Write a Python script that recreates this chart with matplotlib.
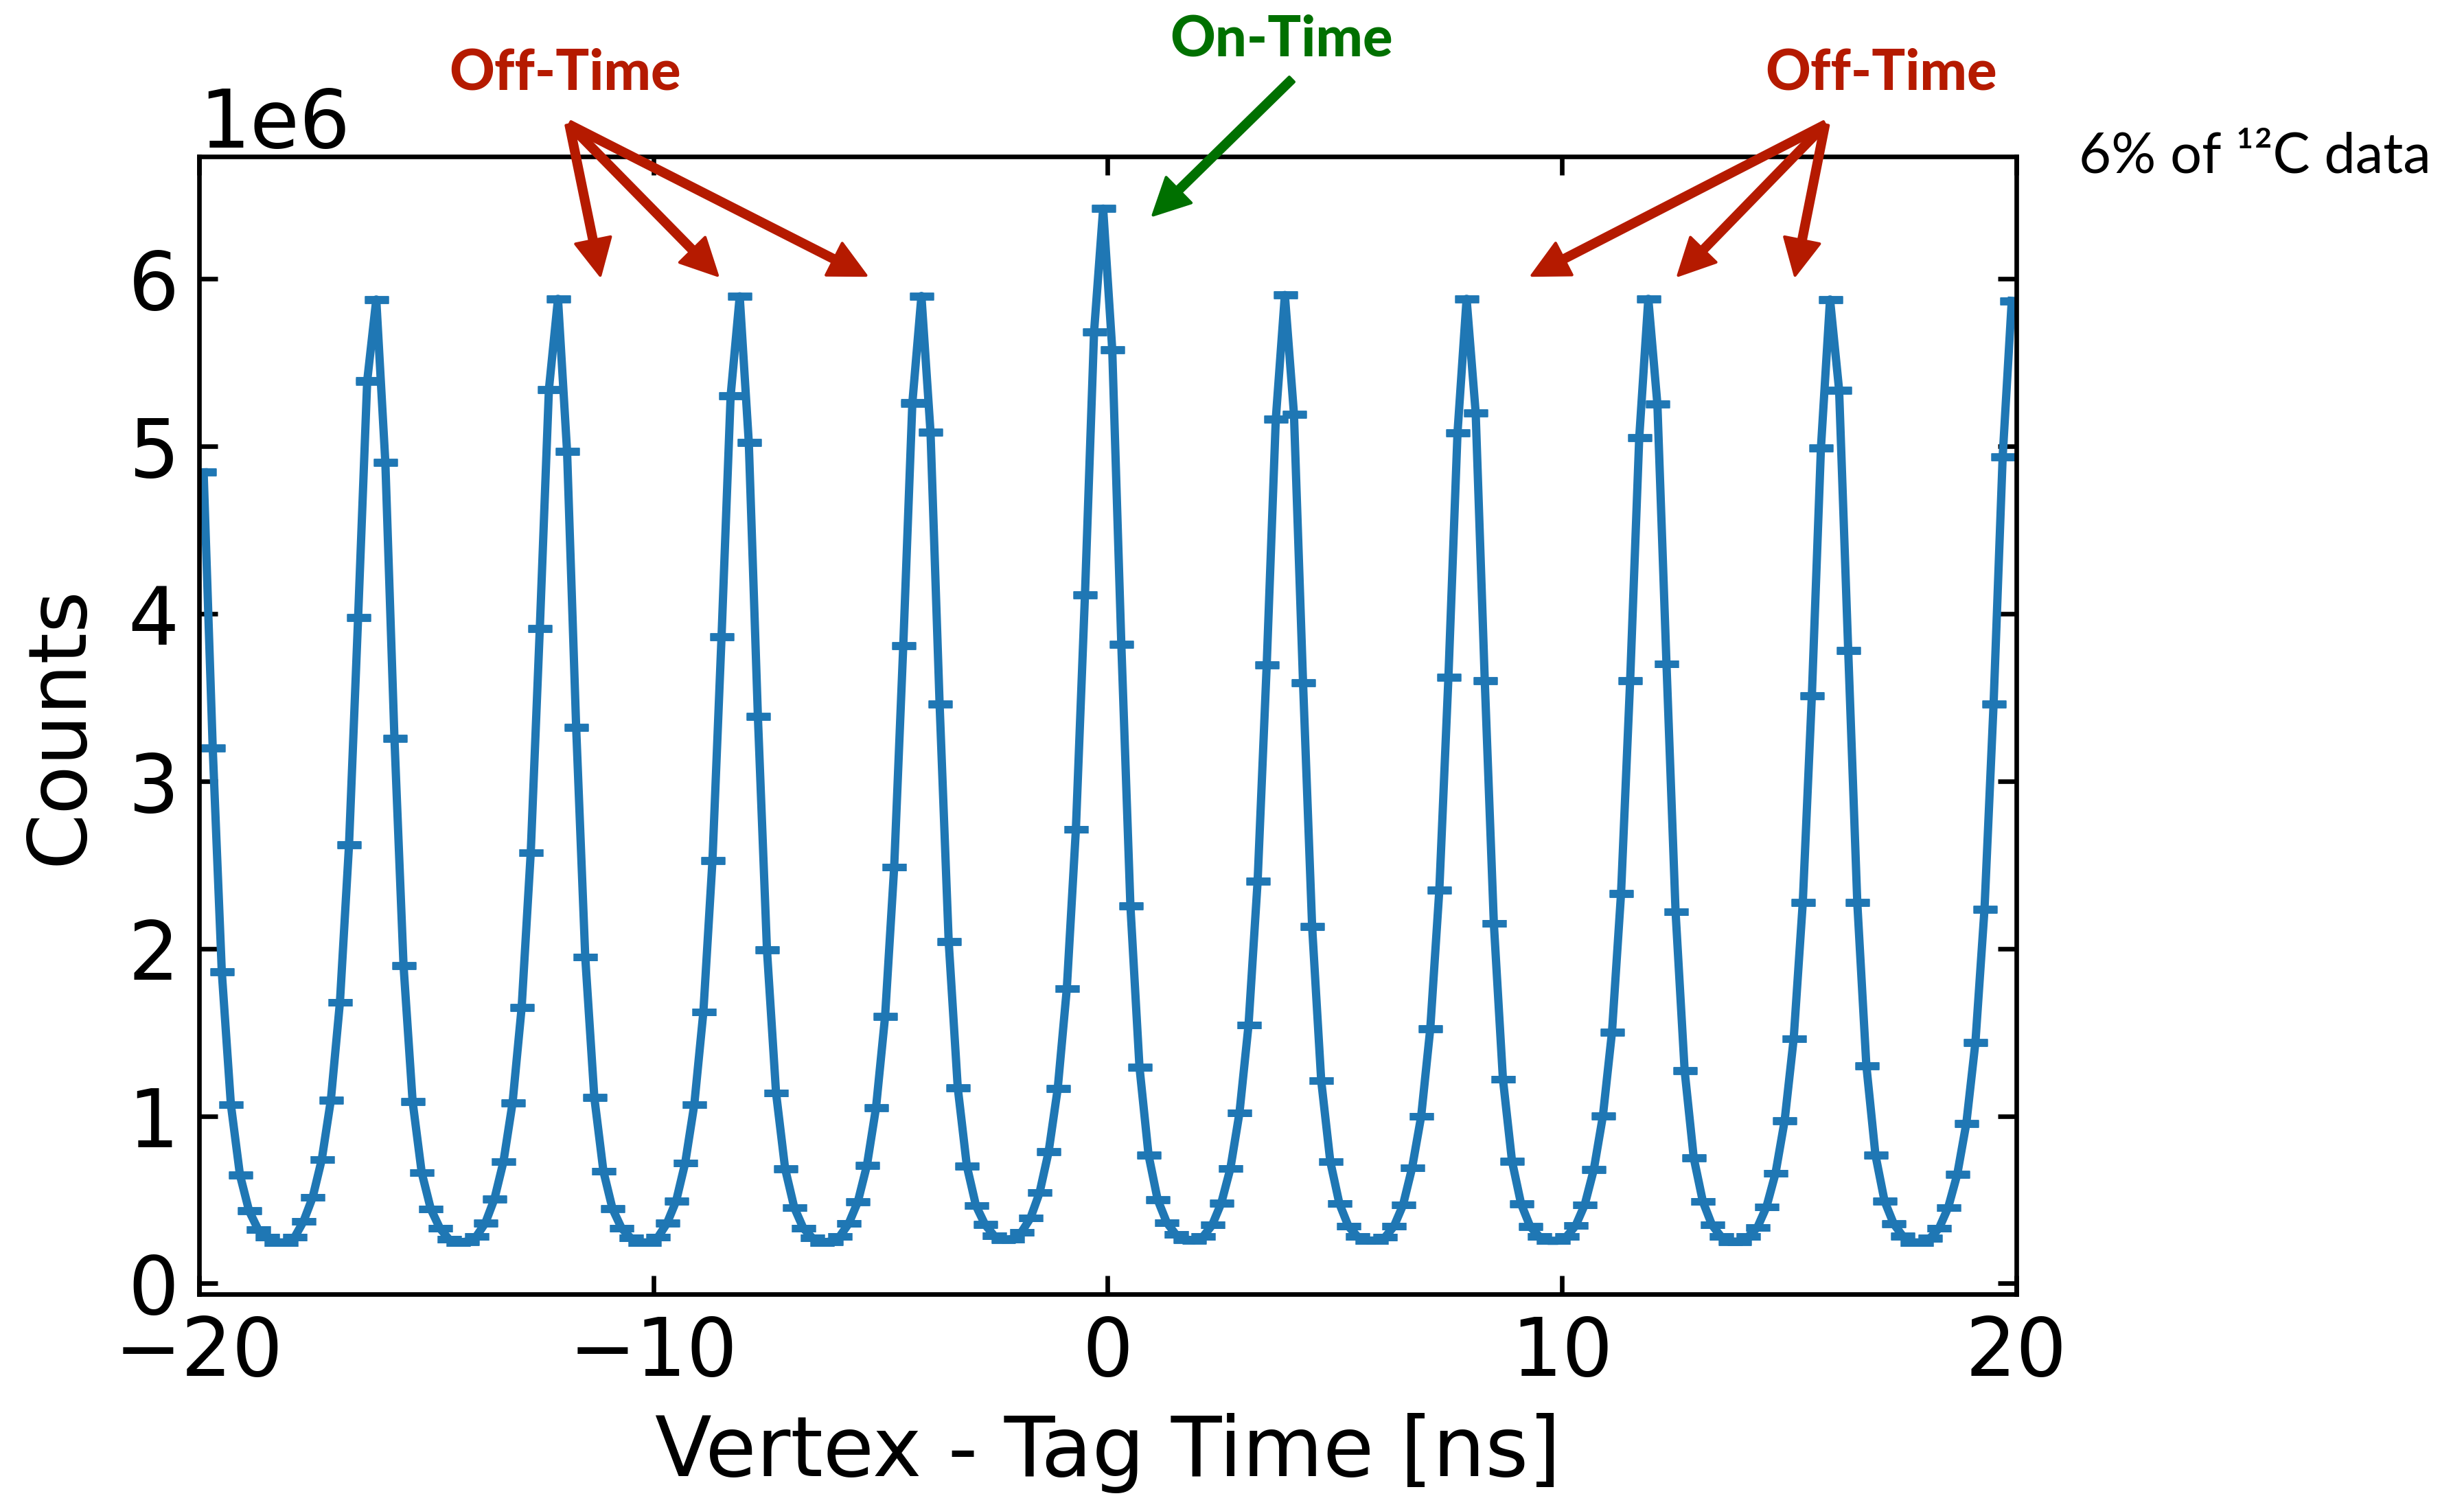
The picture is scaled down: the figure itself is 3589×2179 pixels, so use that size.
import numpy as np
import matplotlib
matplotlib.use("Agg")
from matplotlib import pyplot as plt

# histogram of vertex - tag time, 0.2 ns bins from -20 to 20 ns
bin_edges = np.linspace(-20, 20, 201)
bin_centers = 0.5 * (bin_edges[:-1] + bin_edges[1:])

# counts per bin in millions, one row per 4 ns beam bucket
counts_m = [
    4.844, 3.197, 1.860, 1.068, 0.647, 0.434, 0.322, 0.275, 0.245, 0.245,
    0.275, 0.372, 0.515, 0.740, 1.095, 1.679, 2.618, 3.975, 5.389, 5.876,
    4.902, 3.255, 1.899, 1.087, 0.662, 0.445, 0.330, 0.264, 0.245, 0.250,
    0.280, 0.361, 0.504, 0.728, 1.079, 1.648, 2.572, 3.913, 5.339, 5.880,
    4.968, 3.321, 1.949, 1.110, 0.670, 0.446, 0.330, 0.272, 0.245, 0.245,
    0.276, 0.360, 0.492, 0.720, 1.068, 1.621, 2.525, 3.862, 5.300, 5.895,
    5.022, 3.387, 1.992, 1.138, 0.685, 0.454, 0.330, 0.272, 0.245, 0.250,
    0.280, 0.358, 0.488, 0.705, 1.049, 1.594, 2.486, 3.808, 5.258, 5.897,
    5.084, 3.460, 2.042, 1.168, 0.701, 0.465, 0.352, 0.285, 0.262, 0.265,
    0.305, 0.391, 0.542, 0.787, 1.164, 1.760, 2.712, 4.113, 5.682, 6.419,
    5.577, 3.817, 2.255, 1.291, 0.766, 0.500, 0.364, 0.292, 0.262, 0.258,
    0.280, 0.349, 0.480, 0.686, 1.018, 1.543, 2.401, 3.692, 5.161, 5.903,
    5.192, 3.588, 2.131, 1.211, 0.728, 0.477, 0.341, 0.280, 0.256, 0.256,
    0.275, 0.341, 0.468, 0.690, 0.998, 1.520, 2.350, 3.620, 5.080, 5.880,
    5.200, 3.600, 2.150, 1.220, 0.730, 0.475, 0.340, 0.280, 0.255, 0.255,
    0.280, 0.345, 0.470, 0.680, 1.000, 1.500, 2.330, 3.600, 5.050, 5.880,
    5.250, 3.700, 2.220, 1.270, 0.750, 0.490, 0.350, 0.280, 0.250, 0.250,
    0.280, 0.334, 0.457, 0.658, 0.971, 1.462, 2.274, 3.511, 4.991, 5.876,
    5.335, 3.781, 2.274, 1.300, 0.767, 0.492, 0.357, 0.283, 0.245, 0.245,
    0.270, 0.330, 0.453, 0.651, 0.956, 1.439, 2.235, 3.460, 4.937, 5.868,
]

# annotation anchors (ns, millions of counts)
off_left_label = (-11.95, 7.13)
off_left_origin = (-11.85, 6.92)
off_left_tips = [(-11.17, 6.02), (-8.59, 6.02), (-5.32, 6.02)]
off_right_label = (17.03, 7.13)
off_right_origin = (15.79, 6.92)
off_right_tips = [(9.34, 6.02), (12.56, 6.02), (15.13, 6.02)]
on_label = (3.83, 7.33)
on_origin = (4.05, 7.19)
on_tip = (1.0, 6.38)

red = "#b51a00"
green = "#007000"
blue = "#1f77b4"
fs = 28


def m(p):
    # (ns, millions) -> (ns, counts)
    return (p[0], p[1] * 1e6)


counts = np.array(counts_m) * 1e6
errs = np.sqrt(counts)

fig = plt.figure(figsize=(3589 / 300, 2179 / 300), dpi=300)
ax = fig.add_axes([0.0808, 0.1349, 0.7375, 0.7605])

ax.errorbar(bin_centers, counts, yerr=errs, fmt="-", color=blue, lw=2.9,
            elinewidth=2.2, capsize=4.2, capthick=2.6)

ax.set_xlim(-20, 20)
ax.set_ylim(-0.064e6, 6.73e6)
ax.set_xticks([-20, -10, 0, 10, 20])
ax.set_yticks(np.arange(0, 7) * 1e6)
ax.tick_params(direction="in", top=True, right=True, length=6.4, width=1.6,
               labelsize=fs, pad=7)
for s in ax.spines.values():
    s.set_linewidth(1.6)
ax.yaxis.get_offset_text().set_fontsize(fs)

ax.set_xlabel("Vertex - Tag Time [ns]", fontsize=29, labelpad=7)
ax.set_ylabel("Counts", fontsize=fs, labelpad=10)

bold = dict(family=["Lato", "DejaVu Sans"], weight="black", fontsize=19.5,
            ha="center", va="baseline")
arrow = dict(width=2.4, headwidth=12.5, headlength=12.5, shrink=0)

ax.text(*m(off_left_label), "Off-Time", color=red, **bold)
ax.text(*m(off_right_label), "Off-Time", color=red, **bold)
ax.text(*m(on_label), "On-Time", color=green, **bold)

for tip in off_left_tips:
    ax.annotate("", xy=m(tip), xytext=m(off_left_origin), annotation_clip=False,
                arrowprops=dict(color=red, **arrow))
for tip in off_right_tips:
    ax.annotate("", xy=m(tip), xytext=m(off_right_origin), annotation_clip=False,
                arrowprops=dict(color=red, **arrow))
ax.annotate("", xy=m(on_tip), xytext=m(on_origin), annotation_clip=False,
            arrowprops=dict(color=green, **arrow))

fig.text(0.8437, 0.8845, "6% of \u00b9\u00b2C data", fontsize=19.5,
         family=["Lato", "DejaVu Sans"], weight="normal", color="black",
         ha="left", va="baseline")

plt.savefig("out.png", dpi=300)
